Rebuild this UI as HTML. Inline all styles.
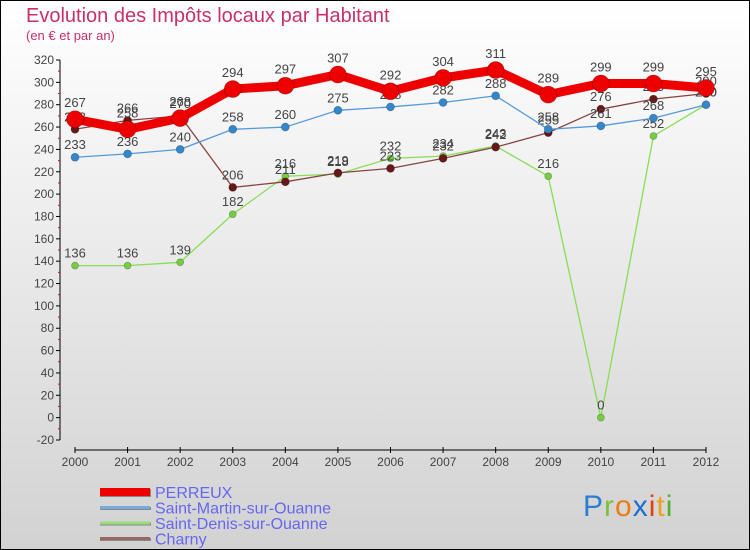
<!DOCTYPE html>
<html><head><meta charset="utf-8">
<style>
body{margin:0;width:750px;height:550px;overflow:hidden;font-family:"Liberation Sans",sans-serif;}
svg{display:block}
</style></head>
<body>
<svg id="c" width="750" height="550" xmlns="http://www.w3.org/2000/svg">
<defs>
<linearGradient id="bg" x1="0" y1="0" x2="0" y2="1">
<stop offset="0" stop-color="#ffffff"/><stop offset="1" stop-color="#d2d2d2"/>
</linearGradient>
</defs>
<rect x="0.5" y="0.5" width="749" height="549" fill="url(#bg)" stroke="#000"/>
<text x="26" y="22" font-size="20" fill="#c8306a" font-weight="300">Evolution des Impôts locaux par Habitant</text>
<text x="26" y="40" font-size="13" fill="#c8306a">(en € et par an)</text>
<g id="axes"></g>
<g id="series"></g>
<g id="legend"></g>
<text x="583" y="516" font-size="30" letter-spacing="1"><tspan fill="#2a7fd4">P</tspan><tspan fill="#7cc040">r</tspan><tspan fill="#f07a10">o</tspan><tspan fill="#1a6fd0">x</tspan><tspan fill="#e04010">i</tspan><tspan fill="#f0a020">t</tspan><tspan fill="#50b030">i</tspan></text>
</svg>
<script>
const years=["2000","2001","2002","2003","2004","2005","2006","2007","2008","2009","2010","2011","2012"];
const perreux=[267,258,268,294,297,307,292,304,311,289,299,299,295];
const stMartin=[233,236,240,258,260,275,278,282,288,258,261,268,280];
const stDenis=[136,136,139,182,216,218,232,234,243,216,0,252,280];
const charny=[258,266,270,206,211,219,223,232,242,255,276,285,290];
const yTicks=[-20,0,20,40,60,80,100,120,140,160,180,200,220,240,260,280,300,320];
const NS="http://www.w3.org/2000/svg";
const X0=75,XS=(706-75)/12,YT=60,YB=440,VMIN=-20,VMAX=320;
const xs=i=>X0+i*XS;
const ys=v=>YB-(v-VMIN)*(YB-YT)/(VMAX-VMIN);
function mk(tag,attrs,parent,txt){const e=document.createElementNS(NS,tag);for(const k in attrs)e.setAttribute(k,attrs[k]);if(txt!==undefined)e.textContent=txt;parent.appendChild(e);return e;}
const ax=document.getElementById('axes');
let e=mk('line',{x1:60,y1:YT,x2:60,y2:YB,stroke:'#000'},ax);


e=mk('line',{x1:X0,y1:450,x2:706,y2:450,stroke:'#000'},ax);


yTicks.forEach((v,i)=>{
  const y=ys(v);
  mk('line',{x1:56,y1:y,x2:60,y2:y,stroke:'#000'},ax);
  if(i<yTicks.length-1){const ym=ys(v+10);mk('line',{x1:58,y1:ym,x2:60,y2:ym,stroke:'#e00'},ax);}
  const t=mk('text',{x:54,y:y+4,'font-size':12,fill:'#444','text-anchor':'end'},ax,String(v));
  
  
});
years.forEach((yr,i)=>{
  const x=xs(i);
  mk('line',{x1:x,y1:447,x2:x,y2:453,stroke:'#000'},ax);
  const t=mk('text',{x:x,y:466,'font-size':12,fill:'#444','text-anchor':'middle'},ax,yr);
  
  
});
const sg=document.getElementById('series');
const defs=[
 {d:stDenis,c:'#88dd55',dot:'#77cc44',w:1.3,r:3.5,n:'saint-denis'},
 {d:charny,c:'#884444',dot:'#661818',w:1.3,r:4,n:'charny'},
 {d:stMartin,c:'#5599dd',dot:'#3388cc',w:1.3,r:4,n:'saint-martin'},
 {d:perreux,c:'#ee0000',dot:'#ee0000',w:9,r:8.5,n:'perreux'}
];
defs.forEach(s=>{
  const g=mk('g',{},sg);
  
  
  const pts=s.d.map((v,i)=>xs(i)+','+ys(v)).join(' ');
  const pl=mk('polyline',{points:pts,fill:'none',stroke:s.c,'stroke-width':s.w,'stroke-linejoin':'round'},g);
  
  
  s.d.forEach((v,i)=>{
    const p=mk('circle',{cx:xs(i),cy:ys(v),r:s.r,fill:s.dot,stroke:'rgba(0,0,0,0.25)','stroke-width':0.8},g);
    
    
    const t=mk('text',{x:xs(i),y:ys(v)-(s.n==='perreux'?12:8),'font-size':13,fill:'#444','text-anchor':'middle'},g,String(v));
    
    
  });
});
const lg=document.getElementById('legend');
const legendItems=[["PERREUX","#ee0000",8],["Saint-Martin-sur-Ouanne","#77aadd",3],["Saint-Denis-sur-Ouanne","#99dd77",3],["Charny","#996666",3]];
legendItems.forEach((it,i)=>{
  const y=492+i*15.5;
  const g=mk('g',{},lg);
  
  
  mk('line',{x1:100,y1:y+1,x2:151,y2:y+1,stroke:'#888','stroke-width':it[2]},g);
  mk('line',{x1:100,y1:y,x2:150,y2:y,stroke:it[1],'stroke-width':it[2]},g);
  mk('text',{x:155,y:y+6,'font-size':16,fill:'#6666ee'},g,it[0]);
});
</script>
</body></html>
